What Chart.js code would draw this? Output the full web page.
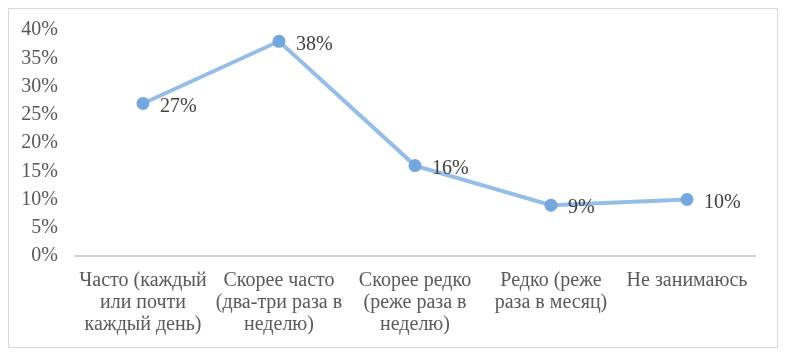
<!DOCTYPE html>
<html>
<head>
<meta charset="utf-8">
<script src="https://cdn.jsdelivr.net/npm/chart.js@4"></script>
<style>
  html, body { margin: 0; padding: 0; background: #fff; }
  #box { position: absolute; left: 8px; top: 8px; width: 770px; height: 340px; box-sizing: border-box; border: 1px solid #d9d9d9; }
  #box canvas { display: block; }
</style>
</head>
<body>
<div id="box"><canvas id="c" width="768" height="338"></canvas></div>
<script>
// categories (multi-line labels) and share of respondents, %
const categories = [
  ['Часто (каждый', 'или почти', 'каждый день)'],
  ['Скорее часто', '(два-три раза в', 'неделю)'],
  ['Скорее редко', '(реже раза в', 'неделю)'],
  ['Редко (реже', 'раза в месяц)'],
  ['Не занимаюсь'],
];
const shares = [27, 38, 16, 9, 10];

const FONT = "'Liberation Serif', 'Times New Roman', serif";

// value labels to the right of each point
const pointLabels = {
  id: 'pointLabels',
  afterDatasetsDraw(chart) {
    const ctx = chart.ctx;
    const meta = chart.getDatasetMeta(0);
    ctx.save();
    ctx.font = '20px ' + FONT;
    ctx.fillStyle = '#404040';
    ctx.textAlign = 'left';
    ctx.textBaseline = 'middle';
    meta.data.forEach((pt, i) => {
      ctx.fillText(shares[i] + '%', pt.x + 17, pt.y + 3);
    });
    ctx.restore();
  }
};

new Chart(document.getElementById('c'), {
  type: 'line',
  data: {
    labels: categories,
    datasets: [{
      data: shares,
      borderColor: '#95bde6',
      borderWidth: 4,
      pointRadius: 4.5,
      pointBackgroundColor: '#74a7dc',
      pointBorderColor: '#74a7dc',
      tension: 0,
    }],
  },
  options: {
    responsive: false,
    animation: false,
    layout: { padding: { top: 13, right: 22, left: 0, bottom: 0 } },
    plugins: { legend: { display: false }, tooltip: { enabled: false } },
    scales: {
      x: {
        offset: true,
        grid: { display: false },
        border: { color: '#d0d0d0', width: 2 },
        ticks: {
          color: '#595959',
          font: { size: 20, family: FONT, lineHeight: 1.1 },
          maxRotation: 0,
          autoSkip: false,
          padding: 6,
        },
        afterFit: s => { s.height = 91; },
      },
      y: {
        min: 0,
        max: 40,
        grid: { display: false },
        border: { display: false },
        ticks: {
          stepSize: 5,
          color: '#595959',
          font: { size: 20, family: FONT },
          padding: 9,
          callback: v => v + '%',
        },
        afterFit: s => { s.width = 66; },
      },
    },
  },
  plugins: [pointLabels],
});
</script>
</body>
</html>
